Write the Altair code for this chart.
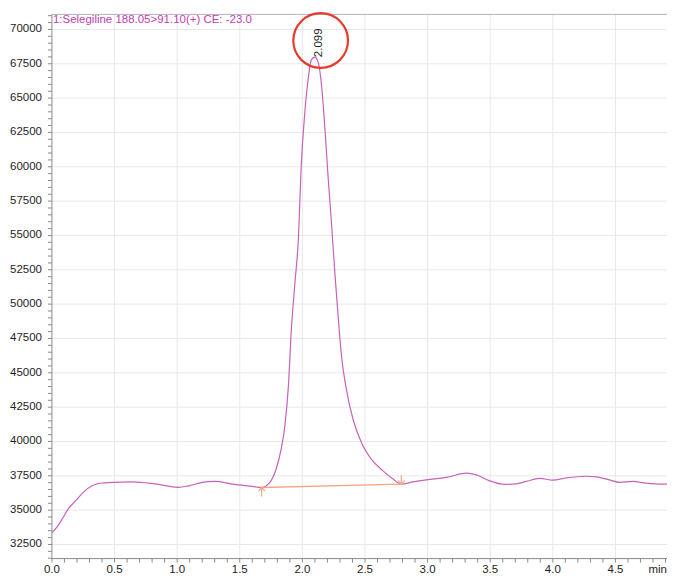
import altair as alt
import pandas as pd

# ---- chromatogram trace (retention time in min, intensity) ----
time_min = [0.00, 0.04, 0.09, 0.13, 0.19, 0.25, 0.32, 0.385, 0.48, 0.64,
            0.82, 1.01, 1.09, 1.20, 1.30, 1.44, 1.60, 1.675, 1.74, 1.79,
            1.83, 1.86, 1.89, 1.91, 1.94, 1.97, 1.99, 2.02, 2.05, 2.07,
            2.099, 2.126, 2.153, 2.18, 2.206, 2.233, 2.26, 2.286, 2.313, 2.352,
            2.405, 2.472, 2.552, 2.644, 2.724, 2.79, 2.884, 2.99, 3.15, 3.31,
            3.39, 3.495, 3.615, 3.708, 3.788, 3.894, 4.00, 4.107, 4.266, 4.346,
            4.452, 4.532, 4.638, 4.745, 4.877, 4.98]
intensity = [33350, 33760, 34480, 35090, 35690, 36290, 36770, 36960, 37020, 37060,
             36920, 36660, 36770, 37020, 37090, 36900, 36730, 36650, 37020, 37980,
             39430, 41110, 44250, 47860, 51480, 55090, 59910, 64010, 66660, 67750,
             67980, 67620, 65940, 62800, 59190, 55820, 52200, 49070, 46170, 43760,
             41600, 39910, 38700, 37860, 37260, 36895, 37060, 37210, 37380, 37690,
             37570, 37135, 36875, 36920, 37090, 37310, 37185, 37350, 37470, 37420,
             37210, 37020, 37090, 36970, 36895, 36890]

# ---- peak annotation ----
peak_rt = [2.099]
peak_height = [67980]
peak_label = ["2.099"]
circle_t = [2.146]
circle_v = [69190]
baseline_t = [1.675, 2.79]
baseline_v = [36650, 36895]

trace_title = ["1:Selegiline 188.05>91.10(+) CE: -23.0"]

# ---- axes (ticks, labels, grid) ----
x_domain = [0.0, 4.912]
y_domain = [31473, 71093]
x_major = [0.0, 0.5, 1.0, 1.5, 2.0, 2.5, 3.0, 3.5, 4.0, 4.5]
x_labels = ["0.0", "0.5", "1.0", "1.5", "2.0", "2.5", "3.0", "3.5", "4.0", "4.5"]
y_major = [32500, 35000, 37500, 40000, 42500, 45000, 47500, 50000,
           52500, 55000, 57500, 60000, 62500, 65000, 67500, 70000]
y_labels = [str(v) for v in y_major]
x_minor = [round(i * 0.1, 1) for i in range(50)]
y_minor = list(range(31500, 71001, 500))
x_unit = ["min"]

FONT = "Liberation Sans"
LINE_COLOR = "#c862b9"
BASE_COLOR = "#f6a587"
AXIS_COLOR = "#8a8a8a"
GRID_COLOR = "#e8e8e8"
TEXT_COLOR = "#1e1e1e"
W, H = 616, 545

trace_df = pd.DataFrame({"t": time_min, "v": intensity})
peak_df = pd.DataFrame({"t": peak_rt, "v": peak_height, "label": peak_label})
circle_df = pd.DataFrame({"t": circle_t, "v": circle_v})
base_df = pd.DataFrame({"t": baseline_t, "v": baseline_v})
title_df = pd.DataFrame({"text": trace_title})
xlab_df = pd.DataFrame({"t": x_major, "label": x_labels})
ylab_df = pd.DataFrame({"v": y_major, "label": y_labels})
xminor_df = pd.DataFrame({"t": x_minor})
yminor_df = pd.DataFrame({"v": y_minor})
unit_df = pd.DataFrame({"text": x_unit})

xs = alt.Scale(domain=x_domain, nice=False, zero=False)
ys = alt.Scale(domain=y_domain, nice=False, zero=False)


def X(field="t"):
    return alt.X(f"{field}:Q", scale=xs, axis=None)


def Y(field="v"):
    return alt.Y(f"{field}:Q", scale=ys, axis=None)


# grid
xgrid = alt.Chart(xlab_df[xlab_df.t > 0]).mark_rule(color=GRID_COLOR, strokeWidth=1).encode(x=X())
ygrid = alt.Chart(ylab_df).mark_rule(color=GRID_COLOR, strokeWidth=1).encode(y=Y())

# axis lines and ticks
frame = alt.Chart(title_df)
top_border = frame.mark_rule(color="#b4b4b4", strokeWidth=1).encode(
    x=alt.value(0), x2=alt.value(W), y=alt.value(0))
left_domain = frame.mark_rule(color=AXIS_COLOR, strokeWidth=1).encode(
    x=alt.value(0), y=alt.value(0), y2=alt.value(H))
bottom_domain = frame.mark_rule(color=AXIS_COLOR, strokeWidth=1).encode(
    x=alt.value(0), x2=alt.value(W), y=alt.value(H))
xminor = alt.Chart(xminor_df).mark_rule(color=AXIS_COLOR, strokeWidth=1).encode(
    x=X(), y=alt.value(H), y2=alt.value(H + 4))
yminor = alt.Chart(yminor_df).mark_rule(color=AXIS_COLOR, strokeWidth=1).encode(
    y=Y(), x=alt.value(-4), x2=alt.value(0))

# tick labels
xlabels = alt.Chart(xlab_df).mark_text(
    align="center", baseline="top", font=FONT, fontSize=11.5, color=TEXT_COLOR
).encode(x=X(), y=alt.value(H + 5), text="label:N")
ylabels = alt.Chart(ylab_df).mark_text(
    align="right", baseline="middle", font=FONT, fontSize=11.5, color=TEXT_COLOR
).encode(y=Y(), x=alt.value(-10), text="label:N")
unit_label = alt.Chart(unit_df).mark_text(
    align="right", baseline="top", font=FONT, fontSize=11.5, color=TEXT_COLOR
).encode(x=alt.value(W), y=alt.value(H + 5), text="text:N")

# data
trace = alt.Chart(trace_df).mark_line(
    color=LINE_COLOR, strokeWidth=1.2, interpolate="monotone", clip=True
).encode(x=X(), y=Y())

baseline = alt.Chart(base_df).mark_line(color=BASE_COLOR, strokeWidth=1.3).encode(x=X(), y=Y())

up_arrow = "M0,0L0,1M-0.37,0.4L0,0L0.37,0.4"
down_arrow = "M0,0L0,-1M-0.37,-0.4L0,0L0.37,-0.4"

start_arrow = alt.Chart(base_df.iloc[[0]]).mark_point(
    shape=up_arrow, size=324, filled=False, stroke=BASE_COLOR, strokeWidth=1.2, opacity=1
).encode(x=X(), y=Y())
end_arrow = alt.Chart(base_df.iloc[[1]]).mark_point(
    shape=down_arrow, size=324, filled=False, stroke=BASE_COLOR, strokeWidth=1.2, opacity=1
).encode(x=X(), y=Y())

peak_text = alt.Chart(peak_df).mark_text(
    angle=270, align="left", baseline="middle", dx=0, dy=4,
    font=FONT, fontSize=11.5, color=TEXT_COLOR
).encode(x=X(), y=Y(), text="label:N")

circle = alt.Chart(circle_df).mark_point(
    shape="circle", size=3000, filled=False, stroke="#e8392c", strokeWidth=2.2, opacity=1
).encode(x=X(), y=Y())

title_text = alt.Chart(title_df).mark_text(
    align="left", baseline="middle", font=FONT, fontSize=11.5, color="#c040b0"
).encode(x=alt.value(1), y=alt.value(6), text="text:N")

chart = alt.layer(
    xgrid, ygrid, top_border, left_domain, bottom_domain, xminor, yminor,
    xlabels, ylabels, unit_label,
    trace, baseline, start_arrow, end_arrow, peak_text, circle, title_text
).properties(
    width=W, height=H,
    padding={"left": 2, "top": 0, "right": 0, "bottom": 0},
    background="white",
).configure_view(
    stroke=None
)

chart.save("out.html", embed_options={"renderer": "svg", "actions": False})
